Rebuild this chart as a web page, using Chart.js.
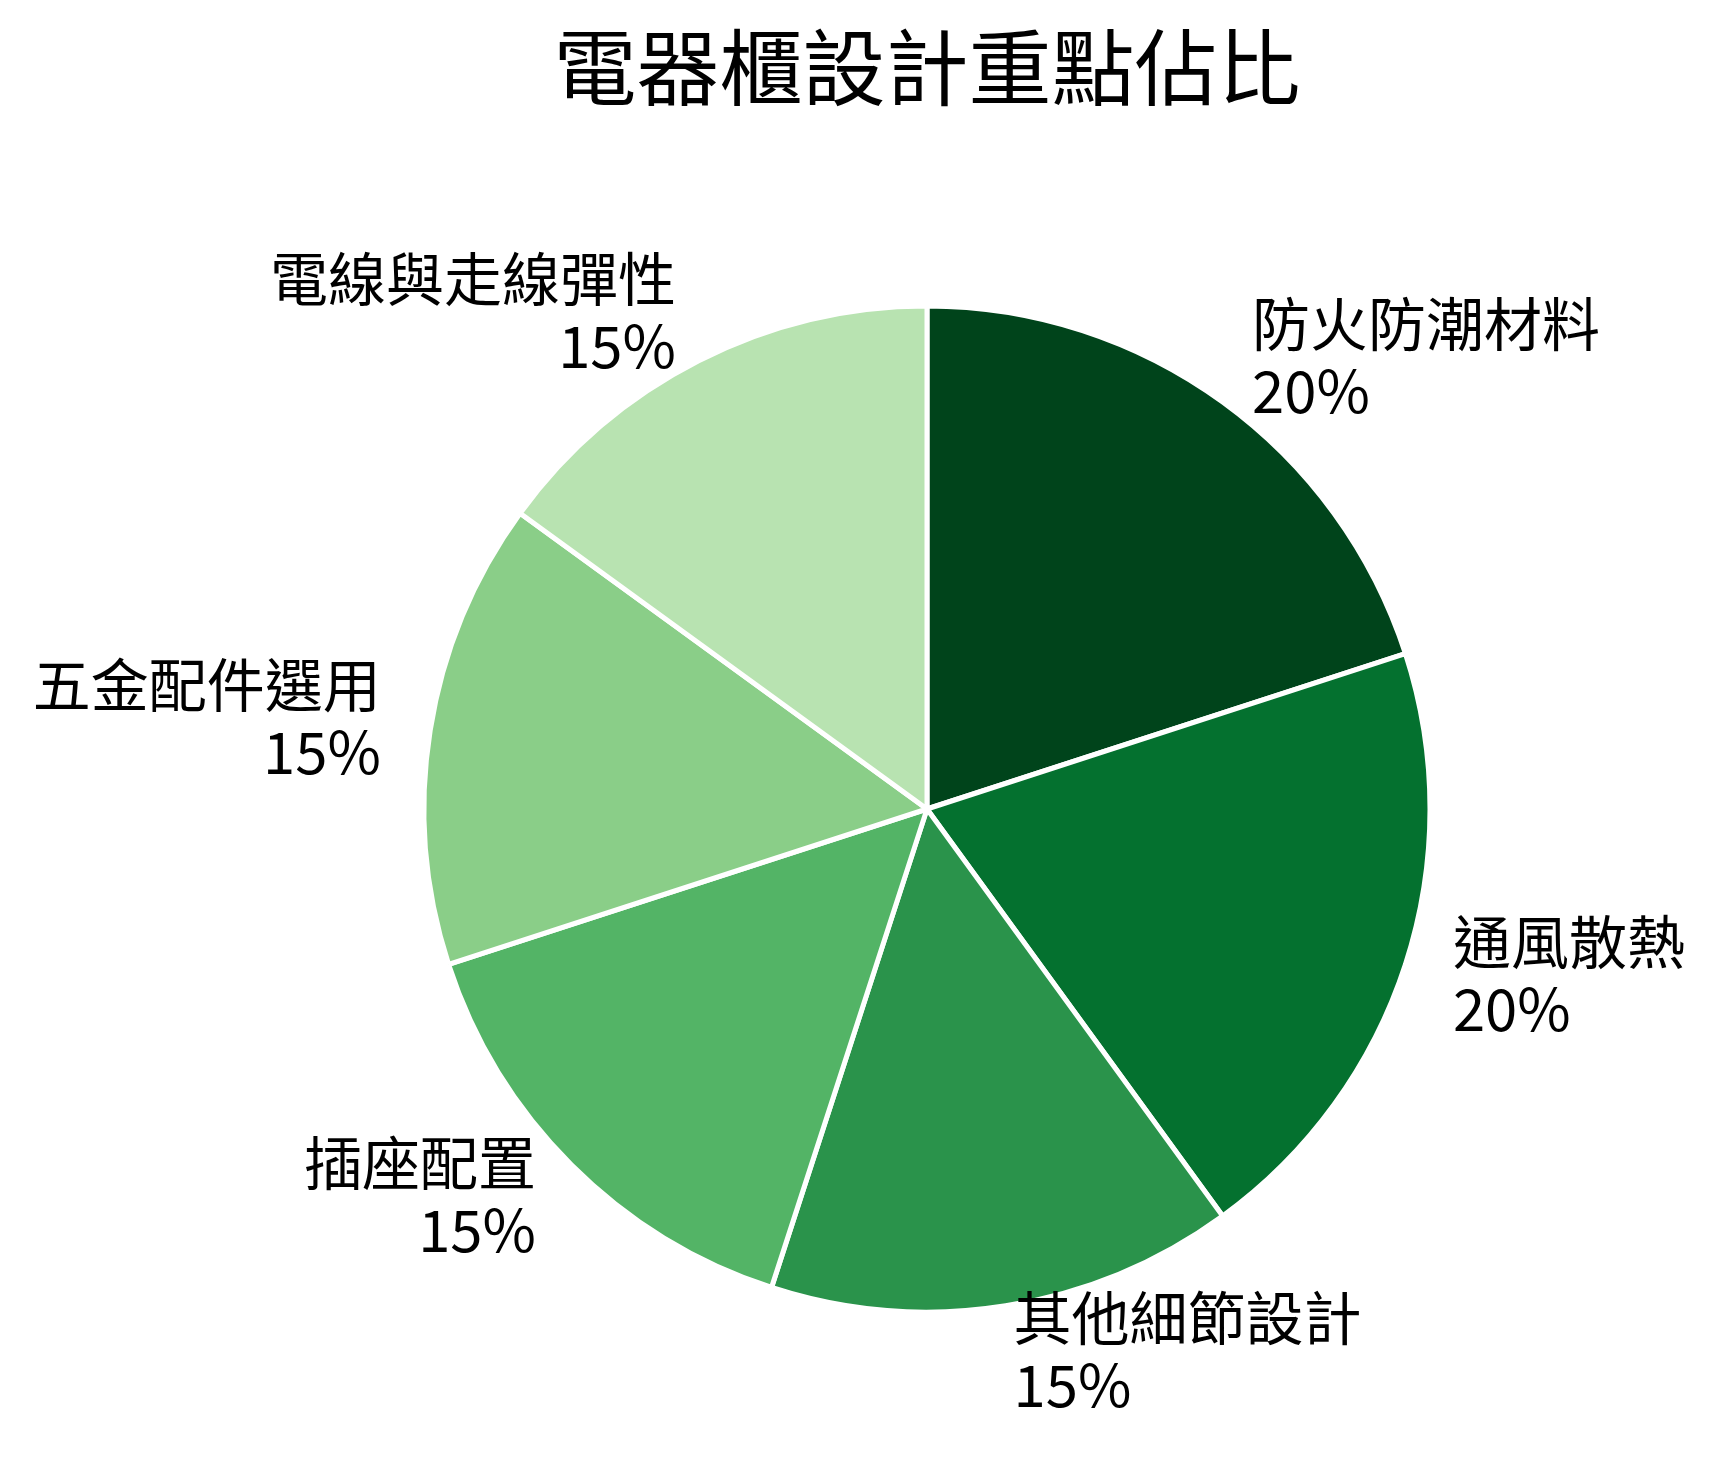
<!DOCTYPE html>
<html>
<head>
<meta charset="utf-8">
<script src="https://cdn.jsdelivr.net/npm/chart.js@4/dist/chart.umd.min.js"></script>
<style>
html,body{margin:0;padding:0;background:#fff;}
#wrap{width:1716px;height:1468px;position:relative;}
</style>
</head>
<body>
<div id="wrap"><canvas id="c" width="1716" height="1468"></canvas></div>
<script>
const titleText = '電器櫃設計重點佔比';
const categories = ['防火防潮材料','通風散熱','其他細節設計','插座配置','五金配件選用','電線與走線彈性'];
const values = [20, 20, 15, 15, 15, 15];
const colors = ['#00441b','#04712f','#2a934b','#53b466','#8ace88','#b8e3b1'];

const FONT = '"Noto Sans CJK TC","Noto Sans CJK SC","Noto Sans",sans-serif';

const labelPlugin = {
  id: 'outerLabels',
  afterDatasetsDraw(chart) {
    const ctx = chart.ctx;
    const meta = chart.getDatasetMeta(0);
    const total = values.reduce((a, b) => a + b, 0);
    ctx.save();
    ctx.font = '58px ' + FONT;
    ctx.fillStyle = '#000';
    ctx.textBaseline = 'middle';
    meta.data.forEach((arc, i) => {
      const p = arc.getProps(['x','y','startAngle','endAngle','outerRadius'], true);
      const mid = (p.startAngle + p.endAngle) / 2;
      const d = 553;
      const x = p.x + Math.cos(mid) * d;
      const y = p.y + Math.sin(mid) * d - 4;
      ctx.textAlign = Math.cos(mid) >= 0 ? 'left' : 'right';
      const pct = Math.round(values[i] / total * 100) + '%';
      ctx.fillText(categories[i], x, y - 33.5);
      ctx.fillText(pct, x, y + 33.5);
    });
    ctx.restore();
  }
};

new Chart(document.getElementById('c'), {
  type: 'pie',
  data: {
    labels: categories,
    datasets: [{
      data: values,
      backgroundColor: colors,
      borderColor: '#ffffff',
      borderWidth: 5,
      radius: 503
    }]
  },
  options: {
    responsive: false,
    animation: false,
    layout: { padding: { left: 138, right: 0, top: 0, bottom: 0 } },
    plugins: {
      legend: { display: false },
      tooltip: { enabled: false },
      title: {
        display: true,
        text: titleText,
        color: '#000',
        font: { family: FONT, size: 83, weight: 'normal', lineHeight: 1.2 },
        padding: { top: 18, bottom: 32.4 }
      }
    }
  },
  plugins: [labelPlugin]
});
</script>
</body>
</html>
